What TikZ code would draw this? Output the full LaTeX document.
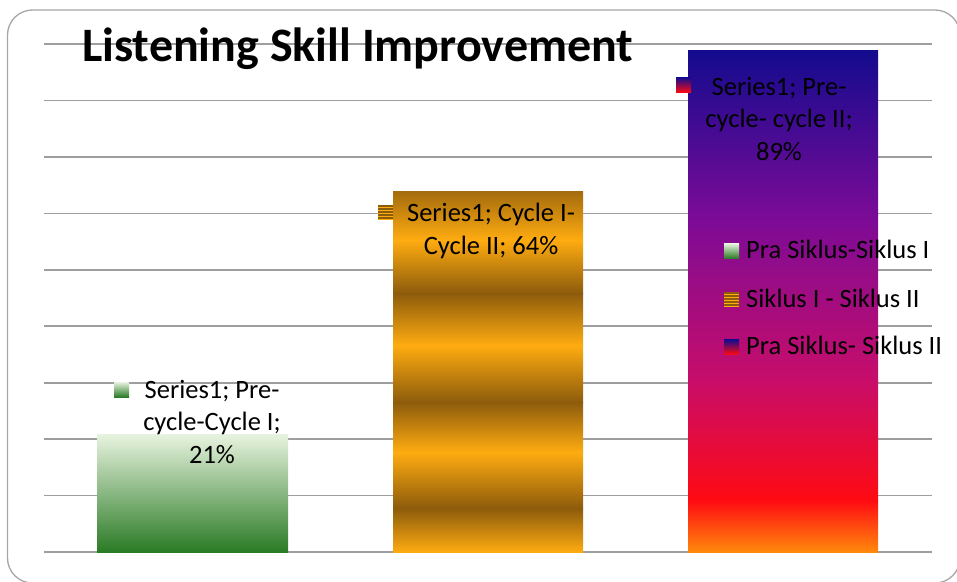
\documentclass[tikz,border=0pt]{standalone}
\usepackage{fontspec}
\setmainfont{Carlito}
\usetikzlibrary{positioning}

\definecolor{gridgray}{HTML}{9E9E9E}
\definecolor{framegray}{HTML}{A6A6A6}
\definecolor{greenlight}{HTML}{E8F3DF}
\definecolor{greendark}{HTML}{2A7B25}
\definecolor{golddark}{HTML}{8C5B0C}
\definecolor{goldbright}{HTML}{FFAC10}
\definecolor{barblue}{HTML}{130B8E}
\definecolor{barpurple}{HTML}{7A0B97}
\definecolor{barmagenta}{HTML}{C80D6A}
\definecolor{barred}{HTML}{FF0A12}
\definecolor{barorange}{HTML}{FF8A0C}

\tikzset{
	gridline/.style={draw=gridgray, line width=1.7pt},
	datalabel/.style={align=center, anchor=base, font=\fontsize{26.5}{32.5}\selectfont, inner sep=0pt},
	legendtext/.style={anchor=base west, font=\fontsize{26.5}{32.5}\selectfont, inner sep=0pt},
	keybox/.style={minimum size=15pt, inner sep=0pt},
	greenkey/.style={keybox, top color=greenlight, bottom color=greendark},
	goldkey/.style={keybox, fill=goldbright, path picture={
		\foreach \k in {0,...,4}
			\draw[golddark, line width=1.1pt] ([yshift=-\k*3pt-1.5pt]path picture bounding box.north west) -- ++(16,0);}},
	purplekey/.style={keybox, top color=barblue, middle color=barpurple!60!barmagenta, bottom color=barred},
}

\begin{document}
\begin{tikzpicture}[x=1pt, y=-1pt]
			\useasboundingbox (0,0) rectangle (957,581);
			\clip (0,0) rectangle (957,581);
			\draw[framegray, line width=1.3pt, rounded corners=25pt] (7.5,10) rectangle (960,583);
			
			\foreach \k in {0,...,9}
				\draw[gridline] (44,552-\k*56.44) -- (932,552-\k*56.44);
			
			\shade[top color=greenlight, bottom color=greendark] (97,434) rectangle (288,552);
			\foreach \ya/\yb/\ca/\cb in {191/240/golddark!80!goldbright/goldbright, 240/293/goldbright/golddark, 293/345/golddark/goldbright, 345/402/goldbright/golddark, 402/452/golddark/goldbright, 452/508/goldbright/golddark, 508/552/golddark/goldbright}
				\shade[top color=\ca, bottom color=\cb] (393,\ya) rectangle (583,\yb+0.6);
			\foreach \ya/\yb/\ca/\cb in {50/215/barblue/barpurple, 215/380/barpurple/barmagenta, 380/500/barmagenta/barred, 500/552/barred/barorange}
				\shade[top color=\ca, bottom color=\cb] (688,\ya) rectangle (878,\yb+0.6);
			
			\node	(title) at (82,61) [anchor=base west, inner sep=0pt, font=\fontsize{48}{57}\selectfont\bfseries] {Listening Skill Improvement};
			
			\node	(lblpre) at (212,463) [datalabel] {Series1; Pre-\\cycle-Cycle I;\\21\%};
			\node	(lblone) at (491,254) [datalabel] {Series1; Cycle I-\\Cycle II; 64\%};
			\node	(lbltwo) at (779,160) [datalabel] {Series1; Pre-\\cycle- cycle II;\\89\%};
			\node	(keypre) at (121.5,389.5) [greenkey] {};
			\node	(keyone) at (385.5,212) [goldkey] {};
			\node	(keytwo) at (683.5,85) [purplekey] {};
			
			\node	(legpre) at (731.5,251) [greenkey] {};
			\node	(legone) at (731.5,299) [goldkey] {};
			\node	(legtwo) at (731.5,347) [purplekey] {};
			\node	(txtpre) at (746,258) [legendtext] {Pra Siklus-Siklus I};
			\node	(txtone) at (746,307) [legendtext] {Siklus I - Siklus II};
			\node	(txttwo) at (746,354) [legendtext] {Pra Siklus- Siklus II};
		\end{tikzpicture}
\end{document}
